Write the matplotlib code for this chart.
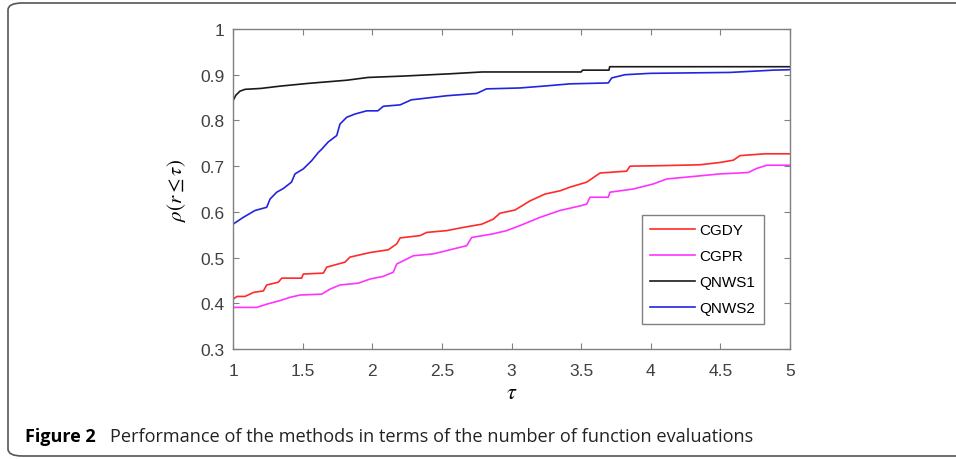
import matplotlib
matplotlib.use("Agg")
import matplotlib.pyplot as plt
from matplotlib.patches import FancyBboxPatch

# performance profile data (tau, rho)
cgdy_tau = [1.0, 1.03, 1.086, 1.15, 1.218, 1.242, 1.325, 1.35, 1.493, 1.505, 1.649, 1.673, 1.804,
            1.84, 1.984, 2.115, 2.176, 2.2, 2.343, 2.391, 2.535, 2.654, 2.786, 2.869, 2.917,
            3.025, 3.133, 3.241, 3.348, 3.42, 3.54, 3.636, 3.827, 3.851, 4.066, 4.354, 4.497,
            4.593, 4.641, 4.82, 5.0]
cgdy_rho = [0.409, 0.415, 0.415, 0.424, 0.427, 0.440, 0.446, 0.455, 0.455, 0.464, 0.466, 0.479,
            0.490, 0.501, 0.511, 0.517, 0.530, 0.543, 0.548, 0.555, 0.559, 0.566, 0.573, 0.584,
            0.597, 0.604, 0.624, 0.639, 0.646, 0.654, 0.665, 0.685, 0.689, 0.700, 0.701, 0.703,
            0.708, 0.713, 0.723, 0.727, 0.727]

cgpr_tau = [1.0, 1.17, 1.242, 1.338, 1.409, 1.481, 1.637, 1.697, 1.768, 1.9, 1.984, 2.08,
            2.151, 2.176, 2.223, 2.295, 2.438, 2.558, 2.678, 2.714, 2.869, 2.966, 3.061, 3.205,
            3.348, 3.492, 3.54, 3.564, 3.695, 3.707, 3.875, 4.018, 4.115, 4.258, 4.497, 4.70,
            4.761, 4.833, 5.0]
cgpr_rho = [0.391, 0.391, 0.398, 0.406, 0.413, 0.418, 0.420, 0.431, 0.440, 0.444, 0.453, 0.459,
            0.468, 0.486, 0.493, 0.504, 0.508, 0.517, 0.526, 0.544, 0.552, 0.559, 0.570, 0.588,
            0.603, 0.613, 0.617, 0.632, 0.632, 0.643, 0.650, 0.661, 0.672, 0.676, 0.683, 0.686,
            0.695, 0.702, 0.702]

qnws1_tau = [1.0, 1.02, 1.05, 1.086, 1.2, 1.338, 1.539, 1.819, 1.969, 2.221, 2.558, 2.788,
             3.50, 3.51, 3.70, 3.705, 5.0]
qnws1_rho = [0.843, 0.855, 0.864, 0.868, 0.870, 0.875, 0.881, 0.888, 0.894, 0.897, 0.902, 0.906,
             0.906, 0.910, 0.910, 0.9175, 0.9175]

qnws2_tau = [1.0, 1.074, 1.158, 1.242, 1.266, 1.314, 1.361, 1.42, 1.445, 1.505, 1.565, 1.613,
             1.637, 1.684, 1.745, 1.768, 1.817, 1.876, 1.96, 2.04, 2.08, 2.2, 2.28, 2.535,
             2.75, 2.82, 3.06, 3.228, 3.42, 3.695, 3.72, 3.815, 3.995, 4.57, 4.88, 5.0]
qnws2_rho = [0.573, 0.588, 0.603, 0.610, 0.628, 0.643, 0.651, 0.665, 0.683, 0.694, 0.712, 0.730,
             0.737, 0.753, 0.767, 0.792, 0.807, 0.814, 0.821, 0.821, 0.831, 0.834, 0.845, 0.854,
             0.859, 0.869, 0.871, 0.875, 0.880, 0.882, 0.893, 0.900, 0.903, 0.905, 0.910, 0.911]

x_ticks = [1, 1.5, 2, 2.5, 3, 3.5, 4, 4.5, 5]
x_labels = ["1", "1.5", "2", "2.5", "3", "3.5", "4", "4.5", "5"]
y_ticks = [0.3, 0.4, 0.5, 0.6, 0.7, 0.8, 0.9, 1.0]
y_labels = ["0.3", "0.4", "0.5", "0.6", "0.7", "0.8", "0.9", "1"]

plt.rcParams["font.family"] = ["Liberation Sans", "DejaVu Sans"]
plt.rcParams["mathtext.fontset"] = "stix"

fig = plt.figure(figsize=(9.56, 4.6), dpi=100)

# rounded frame around the figure panel
frame = FancyBboxPatch((8 / 956, 3 / 460), 1.2, 453 / 460,
                       boxstyle="round,pad=0,rounding_size=0.015",
                       transform=fig.transFigure, fill=False,
                       edgecolor="#555555", linewidth=1.2, clip_on=False)
fig.patches.append(frame)

ax = fig.add_axes([233 / 956, 1 - 350 / 460, 557 / 956, 320 / 460])

ax.plot(cgdy_tau, cgdy_rho, color="#ff2a2a", lw=1.2, label="CGDY")
ax.plot(cgpr_tau, cgpr_rho, color="#ff33ff", lw=1.2, label="CGPR")
ax.plot(qnws1_tau, qnws1_rho, color="#1a1a1a", lw=1.2, label="QNWS1")
ax.plot(qnws2_tau, qnws2_rho, color="#2323e0", lw=1.2, label="QNWS2")

ax.set_xlim(1, 5)
ax.set_ylim(0.3, 1)
ax.set_xticks(x_ticks)
ax.set_xticklabels(x_labels)
ax.set_yticks(y_ticks)
ax.set_yticklabels(y_labels)
ax.tick_params(direction="in", top=True, right=True, length=4, width=0.8,
               color="#808080", labelcolor="#404040", labelsize=12.5, pad=6)
ax.tick_params(axis="x", pad=10)
for s in ax.spines.values():
    s.set_color("#808080")
    s.set_linewidth(1.0)

ax.set_xlabel(r"$\tau$", fontsize=16, labelpad=3)
ax.set_ylabel(r"$\rho(r \leq \tau)$", fontsize=15, labelpad=9)

leg = ax.legend(loc="upper left", bbox_to_anchor=(642 / 956, 1 - 216 / 460),
                bbox_transform=fig.transFigure, fancybox=False, framealpha=1,
                edgecolor="#808080", fontsize=11, handlelength=2.9, borderaxespad=0,
                handletextpad=0.3, labelspacing=0.78, borderpad=0.55)
leg.get_frame().set_linewidth(1.0)

fig.text(25 / 956, 1 - 437 / 460, "Figure 2", fontsize=13, fontweight="bold",
         family="Open Sans", va="center", ha="left")
fig.text(110 / 956, 1 - 437 / 460, "Performance of the methods in terms of the number of function evaluations",
         fontsize=13.1, family="Open Sans", va="center", ha="left", color="#222222")

fig.savefig("out.png", dpi=100)
